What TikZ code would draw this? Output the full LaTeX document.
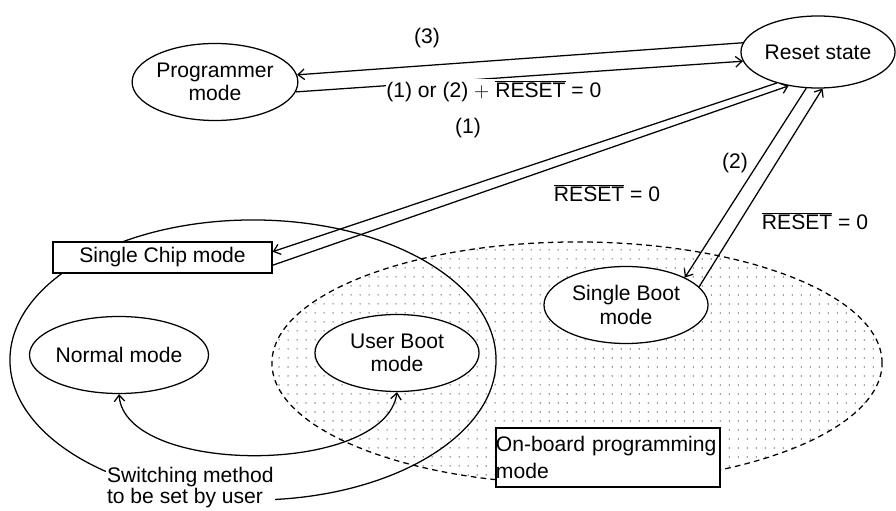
\documentclass[tikz,border=0pt]{standalone}
\usepackage{fontspec}
\setmainfont{Liberation Sans}
\newfontfamily\plusfont{Latin Modern Roman}
\usetikzlibrary{calc,patterns.meta,shapes.geometric,arrows.meta}

\newcommand{\resetbar}{\mbox{$\overline{\hbox{RESET}}$}}

\begin{document}
\begin{tikzpicture}[x=0.025cm, y=-0.025cm, line width=0.9pt,
  font=\fontsize{15}{16.5}\selectfont,
  >={Straight Barb[length=4.5pt, width=7.5pt]},
  modeEll/.style={ellipse, draw, fill=white, inner sep=0pt, align=center, minimum width=4.1cm, minimum height=1.925cm},
  boxRect/.style={rectangle, draw, fill=white},
  lbl/.style={inner sep=1pt}]

\useasboundingbox (0,0) rectangle (896,511);

% on-board programming area
\draw[dash pattern=on 4pt off 3pt, pattern={Dots[distance=0.225cm, radius=0.45pt]}, pattern color=black!85] (577,363) ellipse [x radius=7.625cm, y radius=3.025cm];

% single chip area
\draw (253,360) ellipse [x radius=6.075cm, y radius=3.5cm];

\node (programmerEll) [modeEll] at (215,82) {Programmer\\mode};
\node (resetEll) [modeEll, minimum width=3.85cm, minimum height=1.8cm] at (818,52) {Reset state};
\node (chipRect) [boxRect, minimum width=5.475cm, minimum height=0.775cm] at (162.5,257.5) {Single Chip mode};
\node (normalEll) [modeEll] at (119,355) {Normal mode};
\node (userBootEll) [modeEll] at (397,353) {User Boot\\mode};
\node (singleBootEll) [modeEll] at (626,305) {Single Boot\\mode};
\node (onboardRect) [boxRect, inner sep=0pt, align=left, text width=5.6cm, minimum height=1.475cm, font=\fontsize{15}{19}\selectfont] at (608,457.5) {On-board programming\\mode};
\node (switchText) [fill=white, inner sep=1pt, align=left, anchor=west, font=\fontsize{15}{15}\selectfont] at (105,488) {Switching method\\to be set by user};

% transitions
\draw[->] (resetEll.173) -- (programmerEll.5);
\draw[->] (programmerEll.-7) -- (resetEll.187);
\draw[->] (resetEll.217) -- ($(chipRect.north east)!0.32!(chipRect.south east)$);
\draw[->] ($(chipRect.north east)!0.74!(chipRect.south east)$) -- (resetEll.229);
\draw[->] (resetEll.252) -- (singleBootEll.25);
\draw[->] (singleBootEll.14) -- (resetEll.277);
\draw[<->] (normalEll.south) .. controls (125,476) and (385,476) .. (userBootEll.south);

% labels
\node (lblThree) [lbl] at (427,38) {(3)};
\node (lblProg) [lbl, fill=white, anchor=west, inner sep=0.5pt] at (385,91) {(1) or (2) {\plusfont +} \resetbar{} = 0};
\node (lblOne) [lbl] at (468,128) {(1)};
\node (lblResetOne) [lbl] at (607,193) {\resetbar{} = 0};
\node (lblTwo) [lbl] at (735,163) {(2)};
\node (lblResetTwo) [lbl] at (815,221) {\resetbar{} = 0};

\end{tikzpicture}
\end{document}
